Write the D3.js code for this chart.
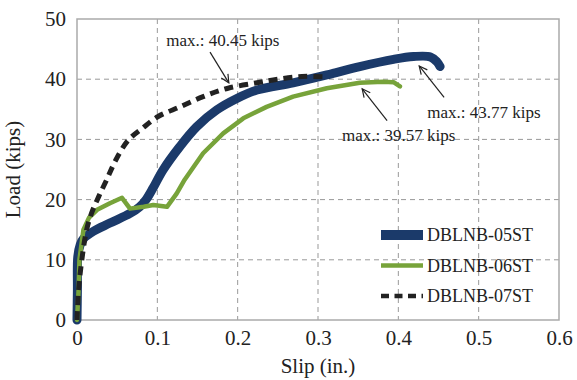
<!DOCTYPE html>
<html>
<head>
<meta charset="utf-8">
<script src="https://cdn.jsdelivr.net/npm/d3@7"></script>
<style>
  body { margin: 0; background: #fff; }
  text { font-family: "Liberation Serif", "Times New Roman", serif; fill: #222; }
</style>
</head>
<body>
<div id="chart"></div>
<script>
// load-slip curves, [slip (in.), load (kips)]
var dblnb05 = [[0,0],[0.0005,5],[0.001,10.5],[0.004,12.5],[0.008,13.5],[0.02,14.7],[0.041,16.1],
    [0.066,17.7],[0.078,18.8],[0.086,20],[0.095,22],[0.107,24.9],[0.128,28.8],[0.149,32.1],
    [0.174,34.9],[0.199,36.8],[0.224,38.2],[0.269,39.4],[0.311,40.7],[0.352,42.1],[0.394,43.3],
    [0.419,43.77],[0.44,43.7],[0.448,42.9],[0.452,42.1]];
var dblnb06 = [[0,0],[0.002,5],[0.003,10],[0.008,15],[0.015,17],[0.025,18.3],[0.041,19.4],
    [0.056,20.3],[0.066,18.5],[0.083,18.8],[0.095,19.1],[0.112,18.8],[0.124,21],[0.134,23.3],
    [0.157,27.7],[0.182,31],[0.207,33.5],[0.236,35.4],[0.269,37.1],[0.311,38.5],[0.352,39.4],
    [0.381,39.57],[0.394,39.5],[0.402,38.8]];
var dblnb07 = [[0,0],[0.002,5],[0.006,10],[0.012,15],[0.018,17.7],[0.027,20.5],[0.037,23.3],
    [0.048,26.5],[0.064,29.9],[0.081,31.8],[0.101,33.8],[0.128,35.4],[0.157,37.1],[0.188,38.5],
    [0.224,39.4],[0.25,40.0],[0.28,40.45],[0.31,40.4]];

var seriesNames = ["DBLNB-05ST", "DBLNB-06ST", "DBLNB-07ST"];
var xTicks = [0, 0.1, 0.2, 0.3, 0.4, 0.5, 0.6];
var yTicks = [0, 10, 20, 30, 40, 50];

// annotations: text position and arrow tail/head in data units
var notes = [
    {label: "max.: 40.45 kips", tx: 0.111, ty: 45.5, from: [0.1656, 44.5], to: [0.189, 39.4]},
    {label: "max.: 43.77 kips", tx: 0.436, ty: 33.6, from: [0.457, 37.0], to: [0.426, 42.2]},
    {label: "max.: 39.57 kips", tx: 0.330, ty: 29.7, from: [0.386, 33.1], to: [0.355, 38.4]}
];

var margin = {top: 19, right: 18, bottom: 60, left: 77};
var width = 577 - margin.left - margin.right;
var height = 380 - margin.top - margin.bottom;

var svg = d3.select("#chart").append("svg")
    .attr("width", 577)
    .attr("height", 380);

var g = svg.append("g")
    .attr("transform", "translate(" + margin.left + "," + margin.top + ")");

var x = d3.scaleLinear().domain([0, 0.6]).range([0, width]);
var y = d3.scaleLinear().domain([0, 50]).range([height, 0]);

// gridlines
g.selectAll(".vgrid").data(xTicks.slice(1, -1)).enter().append("line")
    .attr("x1", function(d) { return x(d); }).attr("x2", function(d) { return x(d); })
    .attr("y1", 0).attr("y2", height)
    .attr("stroke", "#999").attr("stroke-width", 1).attr("stroke-dasharray", "5,4");
g.selectAll(".hgrid").data(yTicks.slice(1, -1)).enter().append("line")
    .attr("x1", 0).attr("x2", width)
    .attr("y1", function(d) { return y(d); }).attr("y2", function(d) { return y(d); })
    .attr("stroke", "#999").attr("stroke-width", 1).attr("stroke-dasharray", "5,4");

// frame
g.append("rect")
    .attr("width", width).attr("height", height)
    .attr("fill", "none").attr("stroke", "#aaa").attr("stroke-width", 1.5);

// axes
var xAxisCall = d3.axisBottom(x).tickValues(xTicks).tickSize(0).tickPadding(10)
    .tickFormat(function(d) { return d === 0 ? "0" : d3.format(".1f")(d); });
var xAxis = g.append("g").attr("transform", "translate(0," + height + ")").call(xAxisCall);
var yAxisCall = d3.axisLeft(y).tickValues(yTicks).tickSize(0).tickPadding(11);
var yAxis = g.append("g").call(yAxisCall);
[xAxis, yAxis].forEach(function(a) {
    a.select(".domain").remove();
    a.selectAll("text").style("font-size", "21px")
        .style("font-family", "'Liberation Serif', serif").attr("fill", "#222");
});

g.append("text")
    .attr("x", width / 2).attr("y", height + 53)
    .attr("text-anchor", "middle").style("font-size", "21px")
    .text("Slip (in.)");
g.append("text")
    .attr("transform", "translate(" + (-57) + "," + (height / 2) + ") rotate(-90)")
    .attr("text-anchor", "middle").style("font-size", "21px")
    .text("Load (kips)");

// curves
var smooth = d3.line()
    .curve(d3.curveCatmullRom.alpha(0.5))
    .x(function(d) { return x(d[0]); })
    .y(function(d) { return y(d[1]); });
var straight = d3.line()
    .x(function(d) { return x(d[0]); })
    .y(function(d) { return y(d[1]); });

var styles = [
    {data: dblnb05, color: "#1b3a6a", w: 9, dash: null, line: smooth},
    {data: dblnb06, color: "#77a33a", w: 4.5, dash: null, line: straight},
    {data: dblnb07, color: "#222", w: 5, dash: "9,6", line: smooth}
];

styles.forEach(function(s) {
    g.append("path")
        .datum(s.data)
        .attr("d", s.line)
        .attr("fill", "none")
        .attr("stroke", s.color)
        .attr("stroke-width", s.w)
        .attr("stroke-linejoin", "round")
        .attr("stroke-linecap", s.dash ? "butt" : "round")
        .attr("stroke-dasharray", s.dash);
});

// annotations
notes.forEach(function(n) {
    g.append("text")
        .attr("x", x(n.tx)).attr("y", y(n.ty))
        .style("font-size", "17px")
        .text(n.label);
    var x1 = x(n.from[0]), y1 = y(n.from[1]), x2 = x(n.to[0]), y2 = y(n.to[1]);
    var ang = Math.atan2(y2 - y1, x2 - x1);
    var len = 9, spread = 0.45;
    g.append("line")
        .attr("x1", x1).attr("y1", y1).attr("x2", x2).attr("y2", y2)
        .attr("stroke", "#222").attr("stroke-width", 1.2);
    g.append("path")
        .attr("d", "M" + (x2 - len * Math.cos(ang - spread)) + "," + (y2 - len * Math.sin(ang - spread)) +
            "L" + x2 + "," + y2 +
            "L" + (x2 - len * Math.cos(ang + spread)) + "," + (y2 - len * Math.sin(ang + spread)))
        .attr("fill", "none").attr("stroke", "#222").attr("stroke-width", 1.2);
});

// legend
var legend = g.append("g").attr("transform", "translate(" + (381 - margin.left) + "," + (235 - margin.top) + ")");
styles.forEach(function(s, i) {
    var row = legend.append("g").attr("transform", "translate(0," + (i * 30.5) + ")");
    row.append("line")
        .attr("x1", 0).attr("x2", 42).attr("y1", 0).attr("y2", 0)
        .attr("stroke", s.color)
        .attr("stroke-width", i === 0 ? 10 : 4.5)
        .attr("stroke-dasharray", s.dash ? "8,5.5" : null);
    row.append("text")
        .attr("x", 46).attr("y", 6)
        .style("font-size", "18px")
        .text(seriesNames[i]);
});
</script>
</body>
</html>
